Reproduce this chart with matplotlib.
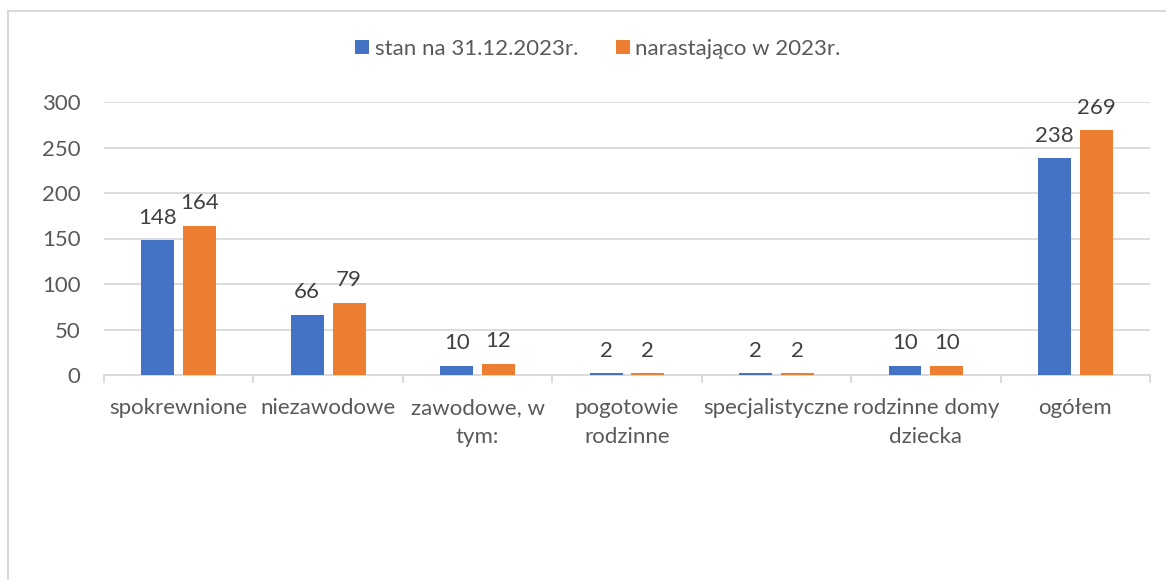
import numpy as np
from matplotlib import pyplot as plt
from matplotlib.lines import Line2D

categories = ["spokrewnione", "niezawodowe", "zawodowe, w\ntym:", "pogotowie\nrodzinne",
              "specjalistyczne", "rodzinne domy\ndziecka", "ogółem"]
stan = [148, 66, 10, 2, 2, 10, 238]
narastajaco = [164, 79, 12, 2, 2, 10, 269]
series_names = ["stan na 31.12.2023r.", "narastająco w 2023r."]
yticks = [0, 50, 100, 150, 200, 250, 300]

plt.rcParams["font.family"] = ["Lato", "DejaVu Sans"]

blue = "#4472c4"
orange = "#ed7d31"
grid_col = "#d9d9d9"
txt_col = "#595959"

fig = plt.figure(figsize=(11.66, 5.8), dpi=100)
ax = fig.add_axes([104 / 1166, 1 - 375 / 580, (1150 - 104) / 1166, (375 - 102) / 580])

x = np.arange(len(categories))
w = 0.22
off = 0.14
b1 = ax.bar(x - off, stan, w, color=blue, label=series_names[0], zorder=3)
b2 = ax.bar(x + off, narastajaco, w, color=orange, label=series_names[1], zorder=3)

for bars, vals in [(b1, stan), (b2, narastajaco)]:
    for r, v in zip(bars, vals):
        ax.annotate(str(v), (r.get_x() + r.get_width() / 2, v), xytext=(0, 12),
                    textcoords="offset points", ha="center", va="baseline",
                    fontsize=16, color="#404040")

ax.set_xlim(-0.5, len(categories) - 0.5)
ax.set_ylim(0, 300)
ax.set_yticks(yticks)
ax.yaxis.grid(True, color=grid_col, linewidth=1.3, zorder=0)
ax.set_axisbelow(True)

ax.set_xticks(x)
ax.set_xticklabels(categories, fontsize=16, color=txt_col, linespacing=1.55)
ax.set_xticks(np.arange(len(categories) + 1) - 0.5, minor=True)
ax.tick_params(axis="x", which="major", length=0, pad=16.5)
ax.tick_params(axis="x", which="minor", length=6, color=grid_col, width=1.3)
ax.tick_params(axis="y", length=0, labelsize=16, labelcolor=txt_col, pad=17)

for s in ["top", "right", "left"]:
    ax.spines[s].set_visible(False)
ax.spines["bottom"].set_color(grid_col)
ax.spines["bottom"].set_linewidth(1.3)

fig.legend(loc="center", bbox_to_anchor=(598 / 1166, 1 - 49 / 580), ncol=2, frameon=False,
           fontsize=16, handlelength=0.63, handleheight=0.63, handletextpad=0.25,
           columnspacing=1.7, labelcolor=txt_col)

# chart border (cropped)
fig.add_artist(Line2D([8 / 1166, 8 / 1166], [0, 1 - 11 / 580], color=grid_col, linewidth=1.5))
fig.add_artist(Line2D([8 / 1166, 1], [1 - 11 / 580, 1 - 11 / 580], color=grid_col, linewidth=1.5))

fig.savefig("out.png", dpi=100)
